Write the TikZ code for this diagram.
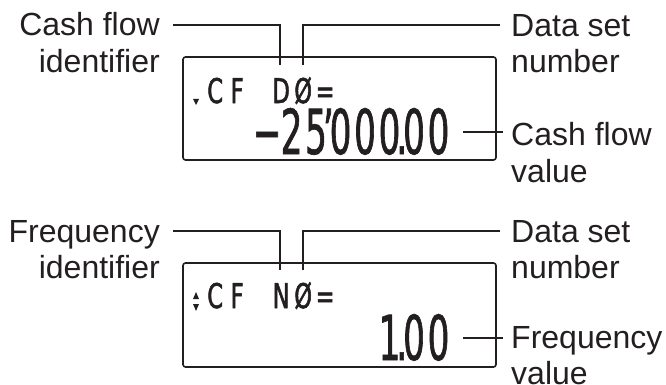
\documentclass[tikz,border=0pt]{standalone}
\usepackage{fontspec}
\setmainfont{Liberation Sans}
\newfontfamily\lcdsmall[FakeStretch=0.66,FakeBold=1.6]{DejaVu Sans}
\newfontfamily\lcdbig[FakeStretch=0.55,FakeBold=1.0]{DejaVu Sans}
\definecolor{ink}{RGB}{35,31,32}
\newcommand\lcell[1]{\makebox[22pt]{#1}}
\newcommand\bcell[1]{\makebox[24.5pt]{#1}}
\newcommand\zwid[1]{\makebox[0pt]{#1}}
\begin{document}
\begin{tikzpicture}[x=1pt,y=-1pt,
  lbl/.style={font=\fontsize{32}{37}\selectfont, inner sep=0pt, text=ink},
  leader/.style={draw=ink, line width=1.3pt},
  lcdbox/.style={draw=ink, line width=1.6pt, rounded corners=2.5pt, minimum width=313pt, minimum height=103pt, inner sep=0pt},
  smalltxt/.style={font=\lcdsmall\fontsize{34}{34}\selectfont, inner sep=0pt, anchor=base west, text=ink},
  bigtxt/.style={font=\lcdbig\fontsize{62}{62}\selectfont, inner sep=0pt, anchor=base east, text=ink}]
\useasboundingbox (0,0) rectangle (666,385);

% ---------- top display ----------
\node[lcdbox] (box1) at (339.5,108.5) {};
\node[lbl, anchor=base east] (cf1) at (160,36) {Cash flow};
\node[lbl, anchor=base east] (cf2) at (160,73) {identifier};
\node[lbl, anchor=base west] (ds1) at (511,37) {Data set};
\node[lbl, anchor=base west] (ds2) at (511,73) {number};
\node[lbl, anchor=base west] (cv1) at (511,145) {Cash flow};
\node[lbl, anchor=base west] (cv2) at (511,182) {value};

\node[smalltxt] (t1) at (204,103) {\lcell{C}\lcell{F}\lcell{}\lcell{D}\lcell{Ø}\lcell{=}};
\node[bigtxt] (n1) at (451,154) {\bcell{−}\bcell{2}\bcell{5}\zwid{’}\bcell{0}\bcell{0}\bcell{0}\zwid{.}\bcell{0}\bcell{0}};
\fill[ink] (193,99) -- (199,99) -- (196,105) -- cycle;

\coordinate (a1) at (173,25);
\coordinate (a2) at (280,65);
\coordinate (b1) at (303,65);
\coordinate (b2) at (500,25);
\coordinate (c1) at (463,132);
\coordinate (c2) at (503,132);
\draw[leader] (a1) -| (a2);
\draw[leader] (b1) |- (b2);
\draw[leader] (c1) -- (c2);

% ---------- bottom display ----------
\node[lcdbox, minimum height=104pt] (box2) at (339.5,315) {};
\node[lbl, anchor=base east] (fq1) at (160,242) {Frequency};
\node[lbl, anchor=base east] (fq2) at (160,278) {identifier};
\node[lbl, anchor=base west] (ds3) at (511,242) {Data set};
\node[lbl, anchor=base west] (ds4) at (511,278) {number};
\node[lbl, anchor=base west] (fv1) at (511,348) {Frequency};
\node[lbl, anchor=base west] (fv2) at (511,384) {value};

\node[smalltxt] (t2) at (204,308) {\lcell{C}\lcell{F}\lcell{}\lcell{N}\lcell{Ø}\lcell{=}};
\node[bigtxt] (n2) at (451,360) {\bcell{1}\zwid{.}\bcell{0}\bcell{0}};
\fill[ink] (193,299) -- (199,299) -- (196,292) -- cycle;
\fill[ink] (193,304) -- (199,304) -- (196,311) -- cycle;

\coordinate (d1) at (173,231);
\coordinate (d2) at (280,270);
\coordinate (e1) at (303,270);
\coordinate (e2) at (500,231);
\coordinate (f1) at (463,338);
\coordinate (f2) at (503,338);
\draw[leader] (d1) -| (d2);
\draw[leader] (e1) |- (e2);
\draw[leader] (f1) -- (f2);
\end{tikzpicture}
\end{document}
